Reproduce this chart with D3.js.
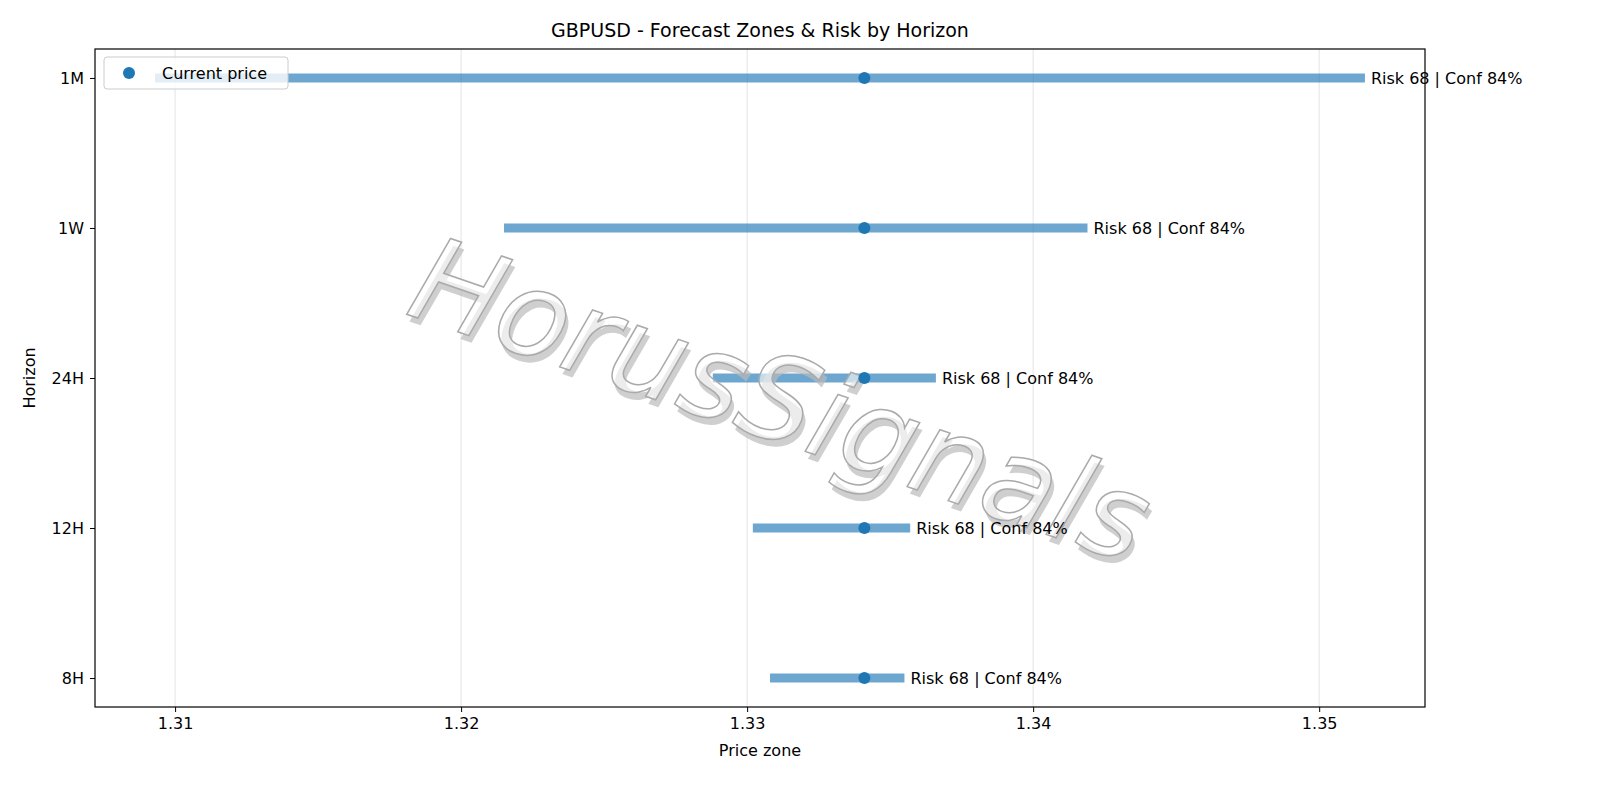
<!DOCTYPE html>
<html><head><meta charset="utf-8">
<script src="https://cdn.jsdelivr.net/npm/d3@7"></script>
<style>body{margin:0;background:#fff}text{font-family:"DejaVu Sans",sans-serif}</style>
</head><body><svg id="c" width="1600" height="800"></svg>
<script>
const horizons = ["1M","1W","24H","12H","8H"];
const lows = [1.3093,1.3215,1.3288,1.3302,1.3308];
const highs = [1.3516,1.3419,1.3366,1.3357,1.3355];
const current = [1.3341,1.3341,1.3341,1.3341,1.3341];
const labels = ["Risk 68 | Conf 84%","Risk 68 | Conf 84%","Risk 68 | Conf 84%","Risk 68 | Conf 84%","Risk 68 | Conf 84%"];
const xTicks = [1.31,1.32,1.33,1.34,1.35];

const svg = d3.select("#c");
const L=95,R=1425,T=49,B=707;
const x = d3.scaleLinear().domain([1.3072,1.3537]).range([L,R]);
const y = d3.scaleLinear().domain([-0.193,4.193]).range([T,B]);

svg.append("g").selectAll("line").data(xTicks).join("line")
 .attr("x1",d=>x(d)).attr("x2",d=>x(d)).attr("y1",T).attr("y2",B)
 .attr("stroke","#e3e3e3").attr("stroke-width",1);

// bars
svg.append("g").selectAll("line").data(horizons).join("line")
 .attr("x1",(d,i)=>x(lows[i])).attr("x2",(d,i)=>x(highs[i]))
 .attr("y1",(d,i)=>y(i)).attr("y2",(d,i)=>y(i))
 .attr("stroke","#1f77b4").attr("stroke-opacity",0.65).attr("stroke-width",9);

// watermark
const wm = svg.append("g").attr("transform","translate(778,408) rotate(19)");
wm.append("text").attr("text-anchor","middle").attr("dominant-baseline","middle")
 .attr("x",5).attr("y",6).attr("font-size",118).attr("font-style","italic")
 .attr("fill","#bbbbbb").attr("fill-opacity",0.7).text("HorusSignals");
wm.append("text").attr("text-anchor","middle").attr("dominant-baseline","middle")
 .attr("font-size",118).attr("font-style","italic")
 .attr("fill","#fff").attr("fill-opacity",0.6).attr("stroke","#aaa").attr("stroke-width",1.5).text("HorusSignals");

svg.append("g").selectAll("circle").data(horizons).join("circle")
 .attr("cx",(d,i)=>x(current[i])).attr("cy",(d,i)=>y(i)).attr("r",6).attr("fill","#1f77b4");
svg.append("g").selectAll("text").data(horizons).join("text")
 .attr("x",(d,i)=>x(highs[i])+6).attr("y",(d,i)=>y(i)).attr("dy","0.35em")
 .attr("font-size",16).text((d,i)=>labels[i]);

svg.append("rect").attr("x",L).attr("y",T).attr("width",R-L).attr("height",B-T)
 .attr("fill","none").attr("stroke","#000").attr("stroke-width",1.2);

const xa = svg.append("g").attr("transform",`translate(0,${B})`)
 .call(d3.axisBottom(x).tickValues(xTicks).tickFormat(d3.format(".2f")).tickSize(5).tickPadding(6));
const ya = svg.append("g").attr("transform",`translate(${L},0)`)
 .call(d3.axisLeft(y).tickValues([0,1,2,3,4]).tickFormat(i=>horizons[i]).tickSize(5).tickPadding(6));
[xa,ya].forEach(a=>{a.select(".domain").remove();a.selectAll("text").attr("font-size",16).attr("font-family","DejaVu Sans");});

svg.append("text").attr("x",(L+R)/2).attr("y",756).attr("text-anchor","middle").attr("font-size",16).text("Price zone");
svg.append("text").attr("transform",`translate(35,${(T+B)/2}) rotate(-90)`).attr("text-anchor","middle").attr("font-size",16).text("Horizon");
svg.append("text").attr("x",(L+R)/2).attr("y",37).attr("text-anchor","middle").attr("font-size",19).text("GBPUSD - Forecast Zones & Risk by Horizon");

const lg = svg.append("g");
lg.append("rect").attr("x",104).attr("y",57).attr("width",184).attr("height",32).attr("rx",3)
 .attr("fill","#fff").attr("fill-opacity",0.8).attr("stroke","#ccc");
lg.append("circle").attr("cx",129).attr("cy",73).attr("r",6).attr("fill","#1f77b4");
lg.append("text").attr("x",162).attr("y",73).attr("dy","0.35em").attr("font-size",16).text("Current price");
</script></body></html>
